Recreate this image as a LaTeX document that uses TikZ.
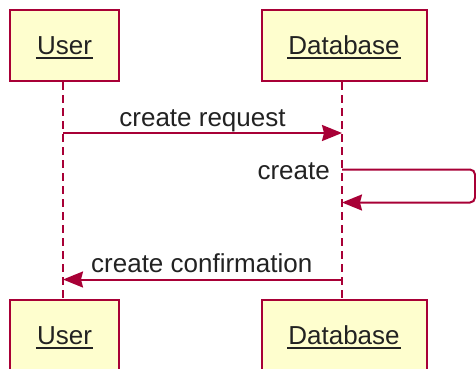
\documentclass[tikz,border=0pt]{standalone}
\usepackage{fontspec}
\setmainfont{Liberation Sans}
\usetikzlibrary{arrows.meta}
\definecolor{pline}{HTML}{A80036}
\definecolor{pfill}{HTML}{FEFECE}
\definecolor{ptxt}{HTML}{222222}
\begin{document}
\begin{tikzpicture}[x=1pt,y=-1pt,
  pbox/.style={draw=pline,fill=pfill,line width=2.5pt,inner sep=0pt,minimum width=#1,minimum height=71pt},
  ptext/.style={inner sep=0pt,anchor=base,text=ptxt,font=\fontsize{26}{30}\selectfont},
  uline/.style={draw=ptxt,line width=2pt},
  life/.style={draw=pline,line width=2pt,dash pattern=on 8pt off 5pt},
  msg/.style={draw=pline,line width=2pt,-{Stealth[length=20pt,width=16pt,inset=2pt]}}
]
\useasboundingbox (0,0) rectangle (476,368);
\clip (0,0) rectangle (476,368);
% lifeline x positions
\coordinate (uX) at (63,0);
\coordinate (dX) at (342,0);
% participant boxes (placement)
\path (64.5,45.5) node[pbox=109pt] (u1) {};
\path (344.5,45.5) node[pbox=165pt] (d1) {};
\path (64.5,335.5) node[pbox=109pt] (u2) {};
\path (344.5,335.5) node[pbox=165pt] (d2) {};
% lifelines
\draw[life] (u1.south -| uX) -- (u2.north -| uX);
\draw[life] (d1.south -| dX) -- (d2.north -| dX);
% redraw boxes on top of lifeline ends
\node[pbox=109pt] at (u1) {};
\node[pbox=165pt] at (d1) {};
\node[pbox=109pt] at (u2) {};
\node[pbox=165pt] at (d2) {};
% participant names
\node[ptext] (u1t) at (64.5,54.5) {User};
\node[ptext] (d1t) at (344,54.5) {Database};
\node[ptext] (u2t) at (64.5,344.5) {User};
\node[ptext] (d2t) at (344,344.5) {Database};
\foreach \n in {u1t,d1t,u2t,d2t}{
  \draw[uline] ([yshift=-3pt,xshift=-1pt]\n.base west) -- ([yshift=-3pt,xshift=1pt]\n.base east);
}
% message anchor points
\coordinate (m1a) at (63,133);
\coordinate (m1b) at (342,133);
\coordinate (s1) at (342,169.5);
\coordinate (sc1) at (475,169.5);
\coordinate (sc2) at (475,202.5);
\coordinate (s2) at (342,202.5);
\coordinate (m3a) at (342,279.5);
\coordinate (m3b) at (63,279.5);
% messages
\draw[msg] (m1a) -- (m1b);
\draw[msg,rounded corners=5pt] (s1) -- (sc1) -- (sc2) -- (s2);
\draw[msg] (m3a) -- (m3b);
% labels
\node[ptext] (l1) at (202.5,126) {create request};
\node[ptext,anchor=base east] (l2) at (330,179.5) {create};
\node[ptext,anchor=base west] (l3) at (91,272) {create confirmation};
\end{tikzpicture}
\end{document}
